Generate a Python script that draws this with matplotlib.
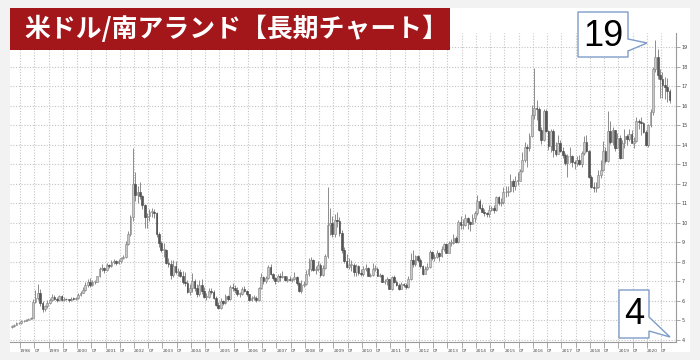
import pandas as pd
import matplotlib
matplotlib.use("Agg")
import matplotlib.pyplot as plt
from matplotlib.patches import Rectangle, Polygon
from matplotlib.transforms import ScaledTranslation

# 月足 USD/ZAR (1997年9月 〜 2020年10月), チャートから目視で読み取り
start_month = "1997-09"
first_open = 4.66

closes = [
    4.70, 4.78, 4.85, 4.87,  # 1997 Sep-Dec
    4.95, 4.98, 5.04, 5.08, 5.14, 5.95, 6.15, 6.40, 5.90, 5.60, 5.72, 5.88,  # 1998
    6.05, 6.20, 6.12, 6.05, 6.25, 6.05, 6.12, 6.08, 6.03, 6.12, 6.10, 6.15,  # 1999
    6.30, 6.42, 6.55, 6.82, 6.95, 6.80, 6.95, 6.98, 7.25, 7.62, 7.70, 7.58,  # 2000
    7.85, 7.80, 7.98, 8.05, 7.95, 8.05, 8.18, 8.25, 8.90, 9.40, 10.30, 12.00,  # 2001
    11.40, 11.55, 11.35, 10.90, 10.30, 10.35, 10.55, 10.55, 10.50, 9.40, 8.95, 8.60,  # 2002
    8.60, 7.95, 7.90, 7.35, 7.80, 7.50, 7.50, 7.30, 6.95, 6.90, 6.45, 6.65,  # 2003
    7.00, 6.65, 6.35, 6.80, 6.50, 6.20, 6.20, 6.50, 6.45, 6.15, 5.80, 5.65,  # 2004
    6.00, 5.90, 6.25, 6.10, 6.70, 6.65, 6.55, 6.35, 6.35, 6.60, 6.50, 6.33,  # 2005
    6.05, 6.15, 6.15, 6.05, 6.65, 7.20, 7.00, 7.15, 7.75, 7.40, 7.15, 7.00,  # 2006
    7.25, 7.20, 7.30, 7.05, 7.10, 7.05, 7.10, 7.20, 6.90, 6.50, 6.80, 6.85,  # 2007
    7.40, 7.65, 8.10, 7.60, 7.65, 7.85, 7.35, 7.70, 8.30, 9.90, 10.00, 9.40,  # 2008
    10.15, 10.10, 9.50, 8.60, 8.05, 7.75, 7.85, 7.85, 7.50, 7.80, 7.45, 7.40,  # 2009
    7.65, 7.70, 7.30, 7.35, 7.65, 7.65, 7.30, 7.35, 6.95, 7.00, 7.10, 6.60,  # 2010
    7.20, 6.95, 6.80, 6.60, 6.85, 6.80, 6.70, 7.10, 8.10, 7.90, 8.30, 8.10,  # 2011
    7.80, 7.40, 7.65, 7.75, 8.50, 8.20, 8.25, 8.45, 8.30, 8.65, 8.90, 8.45,  # 2012
    8.95, 8.95, 9.20, 9.00, 10.05, 9.90, 9.90, 10.25, 10.05, 9.95, 10.25, 10.50,  # 2013
    11.10, 10.75, 10.55, 10.50, 10.45, 10.65, 10.75, 10.65, 11.30, 11.00, 11.05, 11.55,  # 2014
    11.60, 11.65, 12.15, 11.90, 12.15, 12.15, 12.65, 13.20, 13.90, 13.85, 14.45, 15.50,  # 2015
    15.90, 15.80, 14.75, 14.25, 15.70, 14.70, 13.95, 14.70, 13.75, 13.50, 14.10, 13.70,  # 2016
    13.45, 13.05, 13.40, 13.40, 13.10, 13.05, 13.20, 13.00, 13.55, 14.15, 13.70, 12.35,  # 2017
    11.85, 11.80, 11.85, 12.45, 12.70, 13.70, 13.15, 14.70, 14.15, 14.75, 13.85, 14.35,  # 2018
    13.30, 14.10, 14.45, 14.30, 14.55, 14.10, 14.20, 15.20, 15.15, 15.10, 14.65, 14.00,  # 2019
    15.00, 15.65, 17.85, 18.50, 17.55, 17.35, 17.05, 16.95, 16.75, 16.30,  # 2020 Jan-Oct
]

highs = [
    4.75, 4.84, 4.92, 4.92,
    5.00, 5.03, 5.08, 5.12, 5.20, 6.10, 6.55, 6.85, 6.60, 5.98, 5.80, 6.05,
    6.15, 6.35, 6.30, 6.18, 6.30, 6.28, 6.18, 6.15, 6.12, 6.20, 6.18, 6.22,
    6.40, 6.50, 6.70, 6.95, 7.10, 7.15, 7.05, 7.05, 7.30, 7.75, 7.90, 7.75,
    7.95, 7.90, 8.10, 8.15, 8.10, 8.12, 8.25, 8.35, 9.05, 9.60, 10.40, 13.85,
    12.60, 11.90, 12.10, 11.40, 10.95, 10.50, 10.70, 10.75, 10.70, 10.55, 9.55, 9.05,
    8.95, 8.65, 8.20, 8.10, 8.10, 8.05, 7.70, 7.65, 7.55, 7.50, 7.05, 6.85,
    7.45, 7.10, 6.85, 7.05, 7.10, 6.70, 6.40, 6.65, 6.65, 6.55, 6.25, 5.95,
    6.15, 6.05, 6.35, 6.30, 6.80, 6.90, 6.80, 6.70, 6.45, 6.70, 6.75, 6.55,
    6.35, 6.25, 6.30, 6.25, 6.70, 7.45, 7.30, 7.25, 7.85, 7.90, 7.45, 7.20,
    7.40, 7.45, 7.55, 7.30, 7.25, 7.30, 7.15, 7.50, 7.30, 6.95, 7.05, 7.00,
    7.60, 8.20, 8.25, 8.15, 7.80, 8.05, 7.95, 7.85, 8.40, 11.85, 10.75, 10.35,
    10.45, 10.55, 10.30, 9.65, 8.75, 8.40, 8.20, 8.10, 7.95, 7.90, 7.85, 7.65,
    7.80, 7.90, 7.75, 7.45, 7.95, 7.85, 7.75, 7.45, 7.40, 7.10, 7.20, 7.10,
    7.25, 7.35, 7.05, 6.90, 6.95, 6.90, 6.90, 7.25, 8.45, 8.60, 8.35, 8.35,
    8.20, 7.85, 7.80, 7.95, 8.60, 8.55, 8.40, 8.60, 8.50, 8.80, 8.95, 8.95,
    9.05, 9.15, 9.45, 9.30, 10.15, 10.35, 10.20, 10.45, 10.30, 10.10, 10.45, 10.60,
    11.40, 11.20, 10.95, 10.70, 10.55, 10.90, 10.85, 10.90, 11.35, 11.35, 11.25, 11.85,
    11.90, 11.90, 12.50, 12.25, 12.40, 12.60, 12.75, 13.60, 14.15, 14.05, 14.60, 16.05,
    17.90, 16.30, 15.95, 14.90, 15.80, 15.85, 14.75, 14.80, 14.80, 14.15, 14.50, 14.25,
    13.90, 13.55, 13.50, 13.90, 13.45, 13.20, 13.40, 13.45, 13.65, 14.45, 14.50, 13.75,
    12.45, 12.10, 12.10, 12.70, 13.20, 14.20, 13.90, 15.70, 15.20, 14.90, 14.75, 14.60,
    14.50, 14.25, 14.80, 14.55, 14.80, 14.75, 14.40, 15.40, 15.30, 15.40, 15.15, 14.75,
    15.05, 15.80, 18.00, 19.35, 18.90, 17.85, 17.70, 17.45, 17.40, 16.85,
]

lows = [
    4.62, 4.68, 4.74, 4.80,
    4.84, 4.90, 4.95, 5.00, 5.05, 5.10, 5.88, 6.05, 5.75, 5.45, 5.50, 5.62,
    5.85, 6.00, 6.02, 5.92, 6.00, 5.98, 6.00, 6.02, 5.95, 6.00, 6.03, 6.05,
    6.10, 6.25, 6.38, 6.50, 6.70, 6.70, 6.75, 6.85, 6.95, 7.20, 7.55, 7.45,
    7.55, 7.70, 7.75, 7.90, 7.85, 7.90, 7.95, 8.12, 8.20, 8.85, 9.30, 10.10,
    11.10, 11.00, 11.20, 10.70, 9.75, 9.75, 10.10, 10.30, 10.25, 9.25, 8.75, 8.50,
    8.25, 7.90, 7.75, 7.10, 7.20, 7.40, 7.30, 7.20, 6.85, 6.75, 6.40, 6.30,
    6.45, 6.50, 6.20, 6.25, 6.35, 6.15, 6.05, 6.15, 6.35, 6.10, 5.75, 5.60,
    5.60, 5.80, 5.85, 5.98, 6.05, 6.50, 6.40, 6.25, 6.20, 6.30, 6.45, 6.25,
    6.00, 5.98, 6.05, 5.95, 6.00, 6.60, 6.85, 6.90, 7.10, 7.35, 7.05, 6.85,
    6.95, 7.00, 7.15, 7.00, 6.95, 7.00, 6.95, 7.05, 6.80, 6.45, 6.40, 6.70,
    6.80, 7.30, 7.55, 7.55, 7.40, 7.55, 7.20, 7.30, 7.65, 8.20, 9.35, 9.25,
    9.25, 9.80, 9.30, 8.45, 7.95, 7.70, 7.65, 7.55, 7.30, 7.25, 7.35, 7.30,
    7.25, 7.55, 7.25, 7.20, 7.30, 7.55, 7.25, 7.20, 6.95, 6.85, 6.80, 6.60,
    6.55, 6.90, 6.75, 6.55, 6.60, 6.70, 6.60, 6.65, 7.05, 7.75, 7.80, 8.00,
    7.70, 7.35, 7.40, 7.60, 7.70, 8.10, 8.05, 8.20, 8.05, 8.25, 8.55, 8.45,
    8.45, 8.80, 8.90, 8.95, 8.95, 9.70, 9.70, 9.85, 9.70, 9.60, 9.95, 10.05,
    10.40, 10.70, 10.55, 10.35, 10.30, 10.30, 10.60, 10.50, 10.60, 10.90, 10.85, 10.95,
    11.30, 11.35, 11.60, 11.55, 11.70, 11.95, 12.15, 12.60, 13.10, 12.85, 13.70, 14.40,
    15.30, 15.25, 14.70, 14.05, 14.20, 14.65, 13.75, 13.60, 13.35, 13.40, 13.50, 13.60,
    13.30, 12.95, 12.35, 13.05, 12.85, 12.75, 12.90, 12.95, 12.85, 13.45, 13.60, 12.30,
    11.80, 11.55, 11.55, 11.80, 12.30, 12.65, 13.05, 13.10, 14.05, 14.00, 13.70, 13.85,
    13.25, 13.30, 13.85, 14.00, 14.20, 14.10, 13.85, 14.15, 14.80, 14.50, 14.60, 13.95,
    13.90, 14.90, 15.50, 17.70, 17.35, 16.40, 16.40, 16.35, 16.20, 16.15,
]

year_labels = [str(y) for y in range(1998, 2021)]
half_label = "07"
y_ticks = list(range(4, 20))

title = "米ドル/南アランド【長期チャート】"
callout_hi = "19"
callout_lo = "4"

# ---- データ整形 ----
dates = pd.date_range(start_month, periods=len(closes), freq="MS")
df = pd.DataFrame({"close": closes, "high": highs, "low": lows}, index=dates)
df["open"] = df["close"].shift(1).fillna(first_open)
df["x"] = df.index.year + (df.index.month - 0.5) / 12

W, H = 700, 360


def fx(px):
    return px / W


def fy(py):
    return 1 - py / H


fig = plt.figure(figsize=(7, 3.6), dpi=100, facecolor="#f2f2f2")

# 白いチャート領域 (軸より奥に)
fig.patches.append(Rectangle((fx(10), fy(352)), fx(680), 344 / H,
                             transform=fig.transFigure, facecolor="white",
                             edgecolor="none", zorder=-5))

ax = fig.add_axes([fx(10), fy(342), fx(666), (342 - 33) / H])
ax.set_facecolor("white")
ax.set_zorder(1)

up = df["close"] >= df["open"]
body_w = 0.06
ax.vlines(df["x"], df["low"], df["high"], color="#8c8c8c", lw=0.7, zorder=2)
bottoms = df[["open", "close"]].min(axis=1)
heights = (df["close"] - df["open"]).abs().clip(lower=0.04)
ax.bar(df["x"][up], heights[up], bottom=bottoms[up], width=body_w,
       color="#c8c8c8", edgecolor="#808080", lw=0.4, zorder=3)
ax.bar(df["x"][~up], heights[~up], bottom=bottoms[~up], width=body_w,
       color="#555555", edgecolor="#444444", lw=0.4, zorder=3)

ax.set_xlim(1997.649, 2021.018)
ax.set_ylim(3.895, 19.717)

# 目盛り
xt, xl = [], []
for i, lab in enumerate(year_labels):
    y0 = 1998 + i
    xt += [y0, y0 + 0.5]
    xl += [lab, half_label]
ax.set_xticks(xt)
ax.set_xticklabels(xl, fontsize=3.2, color="#444444")
offset = ScaledTranslation(1.5 / 72, 0, fig.dpi_scale_trans)
for lbl in ax.get_xticklabels():
    lbl.set_horizontalalignment("left")
    lbl.set_transform(lbl.get_transform() + offset)
ax.tick_params(axis="x", length=4, width=0.5, color="#888888", pad=1)

ax.yaxis.tick_right()
ax.set_yticks(y_ticks)
ax.set_yticklabels([str(v) for v in y_ticks], fontsize=3.5, color="#444444")
ax.tick_params(axis="y", length=3, width=0.5, color="#888888", pad=1)

ax.grid(True, linestyle=(0, (1, 1.5)), color="#c4c4c4", lw=0.8, zorder=0)
ax.set_axisbelow(True)
for s in ["top", "left"]:
    ax.spines[s].set_visible(False)
for s in ["right", "bottom"]:
    ax.spines[s].set_color("#9a9a9a")
    ax.spines[s].set_linewidth(0.8)

# タイトル帯
fig.patches.append(Rectangle((fx(10), fy(50)), fx(440), 42 / H,
                             transform=fig.transFigure, facecolor="#a3171b",
                             edgecolor="none", zorder=5))
fig.text(fx(24), fy(29), title, color="white", fontsize=18.6, fontweight="bold",
         va="center", ha="left", family=["Noto Sans CJK JP", "DejaVu Sans"], zorder=6)

# 吹き出し
callout_color = "#7d9cc8"
hi_pts = [(578, 12), (628, 12), (628, 39), (647, 43), (628, 51), (628, 57), (578, 57)]
lo_pts = [(619, 290), (649, 290), (649, 317), (670, 337), (649, 331), (649, 338), (619, 338)]
for pts in (hi_pts, lo_pts):
    fig.patches.append(Polygon([(fx(a), fy(b)) for a, b in pts], closed=True,
                               transform=fig.transFigure, facecolor="white",
                               edgecolor=callout_color, lw=1.0, zorder=7))
fig.text(fx(603), fy(36), callout_hi, fontsize=26, color="black", ha="center",
         va="center", family="Liberation Sans", zorder=8)
fig.text(fx(634), fy(315), callout_lo, fontsize=26, color="black", ha="center",
         va="center", family="Liberation Sans", zorder=8)

fig.savefig("out.png", dpi=100, facecolor=fig.get_facecolor())
